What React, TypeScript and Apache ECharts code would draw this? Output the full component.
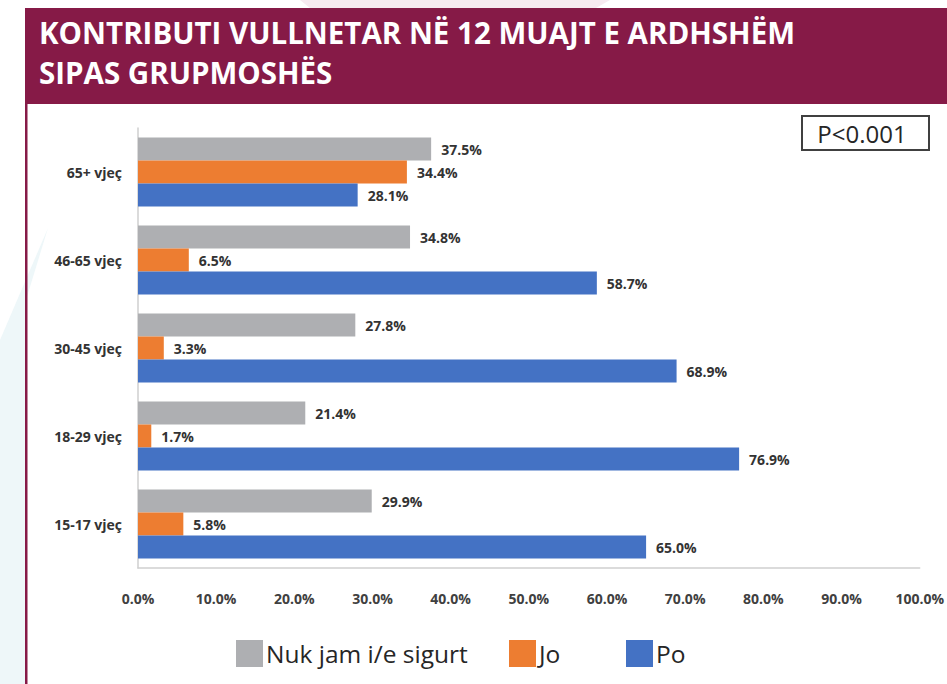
import React, { useEffect, useRef } from "react";
import * as echarts from "echarts";

const titleLines = ["KONTRIBUTI VULLNETAR NË 12 MUAJT E ARDHSHËM", "SIPAS GRUPMOSHËS"];
const categories = ["15-17 vjeç", "18-29 vjeç", "30-45 vjeç", "46-65 vjeç", "65+ vjeç"];
const seriesNames = ["Nuk jam i/e sigurt", "Jo", "Po"];
const nukJam = [29.9, 21.4, 27.8, 34.8, 37.5];
const jo = [5.8, 1.7, 3.3, 6.5, 34.4];
const po = [65.0, 76.9, 68.9, 58.7, 28.1];
const colors = ["#AEAFB2", "#ED7D31", "#4472C4"];
const pValue = "P<0.001";

export default function App() {
  const ref = useRef<HTMLDivElement>(null);
  useEffect(() => {
    if (!ref.current) return;
    const chart = echarts.init(ref.current, undefined, { renderer: "svg" });
    const values = [nukJam, jo, po];
    const labelStyle = {
      show: true,
      position: "right",
      distance: 10,
      fontFamily: "Open Sans",
      fontWeight: "bold",
      fontSize: 14,
      color: "#333333",
      formatter: (p: any) => Number(p.value).toFixed(1) + "%",
    };
    const legendLefts = [236, 509, 626];
    chart.setOption({
      animation: false,
      backgroundColor: "#ffffff",
      title: {
        text: titleLines.join("\n"),
        left: 39,
        top: 12,
        padding: 0,
        textStyle: {
          color: "#ffffff",
          fontFamily: "Open Sans",
          fontWeight: "bold",
          fontSize: 29.5,
          lineHeight: 40,
        },
      },
      legend: seriesNames.map((n, i) => ({
        data: [n],
        left: legendLefts[i],
        top: 640,
        padding: 0,
        icon: "rect",
        itemWidth: 27,
        itemHeight: 27,
        selectedMode: false,
        textStyle: { fontFamily: "Open Sans", fontSize: 24.5, color: "#262626", padding: [0, 0, 0, -2] },
      })),
      grid: { left: 138, top: 128, width: 784, height: 440, containLabel: false },
      xAxis: {
        type: "value",
        min: 0,
        max: 100,
        interval: 10,
        axisLine: { show: true, lineStyle: { color: "#cfcfcf", width: 1.5 } },
        axisTick: { show: false },
        splitLine: { show: false },
        axisLabel: {
          margin: 23,
          fontFamily: "Open Sans",
          fontWeight: "bold",
          fontSize: 14,
          color: "#404040",
          formatter: (v: number) => v.toFixed(1) + "%",
        },
      },
      yAxis: {
        type: "category",
        data: categories,
        axisLine: { show: true, lineStyle: { color: "#cfcfcf", width: 1.5 } },
        axisTick: { show: false },
        axisLabel: {
          margin: 16,
          fontFamily: "Open Sans",
          fontWeight: "bold",
          fontSize: 14,
          color: "#333333",
        },
      },
      series: seriesNames.map((n, i) => ({
        name: n,
        type: "bar",
        data: values[i],
        barWidth: 23,
        barGap: "0%",
        itemStyle: { color: colors[i] },
        label: labelStyle,
      })),
      graphic: [
        { type: "polygon", z: -10, shape: { points: [[0, 684], [0, 340], [48, 228], [26, 300], [26, 684]] }, style: { fill: "#eef7f9" } },
        { type: "polygon", z: -10, shape: { points: [[300, 0], [610, 0], [596, 8], [310, 8]] }, style: { fill: "#f7eaf0" } },
        { type: "rect", z: -5, shape: { x: 25, y: 8, width: 922, height: 96 }, style: { fill: "#861A47" } },
        { type: "rect", z: -5, shape: { x: 25, y: 100, width: 2.5, height: 584 }, style: { fill: "#861A47" } },
        { type: "rect", shape: { x: 802, y: 116, width: 127, height: 34 }, style: { fill: "#ffffff", stroke: "#404040", lineWidth: 2 } },
        {
          type: "text",
          x: 862,
          y: 133,
          style: { text: pValue, fontFamily: "Open Sans", fontSize: 24, fill: "#262626", align: "center", verticalAlign: "middle" },
        },
      ],
    });
    return () => chart.dispose();
  }, []);
  return <div ref={ref} style={{ position: "fixed", left: 0, top: 0, width: 947, height: 684 }} />;
}
